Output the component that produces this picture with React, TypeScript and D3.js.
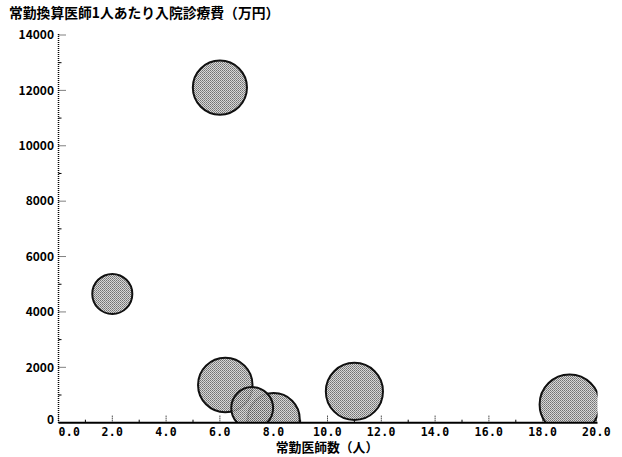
import React from "react";
import * as d3 from "d3";

const titleText = "常勤換算医師1人あたり入院診療費（万円）";
const xTitleText = "常勤医師数（人）";
const xValues = [2.0, 6.0, 6.2, 8.0, 7.2, 11.0, 19.0];
const yValues = [4650, 12100, 1360, 130, 530, 1130, 660];
const sizeValues = [46, 82, 83, 76, 50, 91, 100];
const xTicks = [0, 2, 4, 6, 8, 10, 12, 14, 16, 18, 20];
const xMinorTicks = [1, 3, 5, 7, 9, 11, 13, 15, 17, 19];
const yTicks = [0, 2000, 4000, 6000, 8000, 10000, 12000, 14000];
const yMinorTicks = [1000, 3000, 5000, 7000, 9000, 11000, 13000];

const W = 622;
const H = 457;
const left = 58.5;
const right = 596.5;
const top = 35;
const bottom = 422.7;

export default function App() {
  const x = d3.scaleLinear().domain([0, 20]).range([left, right]);
  const y = d3.scaleLinear().domain([0, 14000]).range([bottom, top]);
  const r = d3.scaleSqrt().domain([0, 100]).range([0, 31]);
  const data = xValues.map((v, i) => ({ x: v, y: yValues[i], s: sizeValues[i] }));
  const font = "'Noto Sans CJK JP', 'DejaVu Sans', sans-serif";
  const mono = "'DejaVu Sans Mono', monospace";
  return (
    <svg width={W} height={H} style={{ position: "absolute", left: 0, top: 0, background: "#fff" }}>
      <defs>
        <pattern id="dither" patternUnits="userSpaceOnUse" width={2} height={2}>
          <rect width={2} height={2} fill="#d2d2d2" />
          <rect x={0} y={0} width={1} height={1} fill="#5e5e5e" />
          <rect x={1} y={1} width={1} height={1} fill="#7a7a7a" />
        </pattern>
        <clipPath id="plot">
          <rect x={left} y={top - 40} width={right - left + 1} height={bottom - top + 40} />
        </clipPath>
      </defs>
      <text x={9} y={18} fontFamily={font} fontWeight="bold" fontSize={13.8} fill="#000">
        {titleText}
      </text>
      {/* y axis */}
      <line x1={left} x2={left} y1={top - 1} y2={bottom} stroke="#000" strokeWidth={1.5} strokeDasharray="1,1" />
      {yTicks.map((t) => (
        <g key={"yt" + t}>
          {t > 0 && (
            <line x1={left} x2={left + 8} y1={y(t)} y2={y(t)} stroke="#000" strokeWidth={1} strokeDasharray="1,1" />
          )}
          <text x={54} y={t === 0 ? y(t) - 3 : y(t)} dy="0.36em" textAnchor="end" fontFamily={font} fontWeight="bold" fontSize={12} fill="#000">
            {t}
          </text>
        </g>
      ))}
      {yMinorTicks.map((t) => (
        <line key={"ym" + t} x1={left} x2={left + 3} y1={y(t)} y2={y(t)} stroke="#000" strokeWidth={1} />
      ))}
      {/* x axis ticks */}
      {xTicks.map((t) => (
        <g key={"xt" + t}>
          <line x1={x(t)} x2={x(t)} y1={bottom - 7} y2={bottom} stroke="#000" strokeWidth={1} strokeDasharray="1,1" />
          <text
            x={t === 0 ? left : x(t)}
            y={436}
            textAnchor={t === 0 ? "start" : "middle"}
            fontFamily={mono}
            fontWeight="bold"
            fontSize={11.5}
            letterSpacing={0.3}
            fill="#000"
          >
            {t.toFixed(1)}
          </text>
        </g>
      ))}
      {xMinorTicks.map((t) => (
        <line key={"xm" + t} x1={x(t)} x2={x(t)} y1={bottom - 3} y2={bottom} stroke="#000" strokeWidth={1} />
      ))}
      {/* bubbles */}
      <g clipPath="url(#plot)">
        {data.map((d, i) => (
          <circle
            key={i}
            cx={x(d.x)}
            cy={y(d.y)}
            r={r(d.s) - 1}
            fill="url(#dither)"
            fillOpacity={0.88}
            stroke="#111"
            strokeWidth={2}
          />
        ))}
      </g>
      <line x1={left} x2={right + 1} y1={bottom} y2={bottom} stroke="#000" strokeWidth={2} />
      <text x={327} y={452} textAnchor="middle" fontFamily={font} fontWeight="bold" fontSize={12.8} fill="#000">
        {xTitleText}
      </text>
    </svg>
  );
}
